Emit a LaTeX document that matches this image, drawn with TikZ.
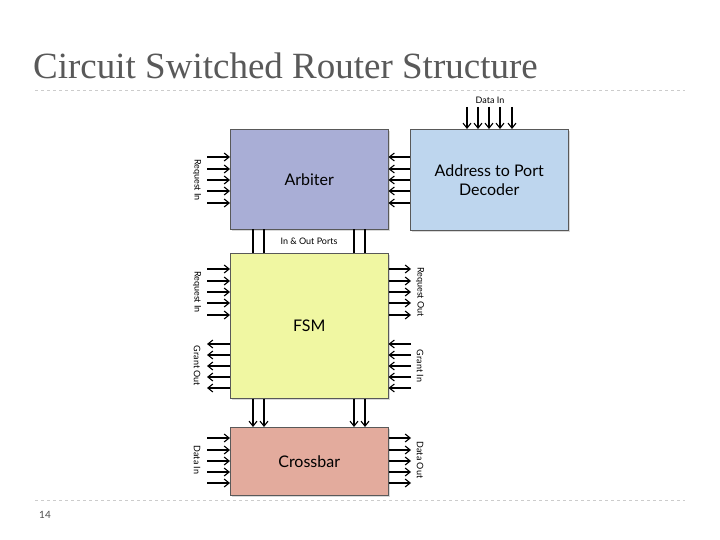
\documentclass[tikz,border=0pt]{standalone}
\usepackage{fontspec}
\setmainfont{Lato}
\newfontfamily\titlefont{Liberation Serif}
\usetikzlibrary{shadows,arrows.meta}
\definecolor{arb}{HTML}{A9AED6}
\definecolor{dec}{HTML}{BED6EE}
\definecolor{fsm}{HTML}{F0F7A2}
\definecolor{xbar}{HTML}{E3AB9D}
\begin{document}
\begin{tikzpicture}[x=1pt,y=-1pt,
  blk/.style={draw=gray!70!black,line width=0.5pt,minimum width=158pt,drop shadow={shadow xshift=2pt,shadow yshift=-2pt,opacity=0.3},font=\fontsize{16}{19}\selectfont,align=center,anchor=north west},
  sig/.style={-{Straight Barb[length=5pt,width=8pt]},line width=1.1pt},
  lab/.style={font=\fontsize{9}{10}\selectfont,rotate=-90},
  sepline/.style={draw=gray!40,dashed,line width=0.6pt}]
\useasboundingbox (0,0) rectangle (720,540);
\node[font=\titlefont\fontsize{37}{40}\selectfont,text=black!65,anchor=base west,inner sep=0pt] (title) at (33,79) {Circuit Switched Router Structure};
\coordinate (d1) at (35,90); \coordinate (d2) at (685,90);
\coordinate (d3) at (35,500); \coordinate (d4) at (685,500);
\draw[sepline] (d1) -- (d2); \draw[sepline] (d3) -- (d4);
\node[font=\fontsize{10}{12}\selectfont,text=black!70] (pg) at (45,515) {14};

\node[blk,fill=arb,minimum height=100pt] (arb) at (230,129) {Arbiter};
\node[blk,fill=dec,minimum height=101pt] (dec) at (410,129) {Address to Port\\Decoder};
\node[blk,fill=fsm,minimum height=145pt] (fsm) at (230,253) {FSM};
\node[blk,fill=xbar,minimum height=68pt] (xb) at (230,427) {Crossbar};

\foreach \y [count=\i] in {157,169,180,191,203}{
  \coordinate (al\i) at (207,\y);
  \draw[sig] (al\i) -- (al\i -| arb.west);
  \draw[sig] (dec.west |- al\i) -- (arb.east |- al\i);
}
\node[lab] (l1) at (197,180) {Request In};
\foreach \x [count=\i] in {467,478,489,500,512}{
  \coordinate (dt\i) at (\x,107);
  \draw[sig] (dt\i) -- (dt\i |- dec.north);
}
\node[font=\fontsize{9}{10}\selectfont] (l2) at (490,100) {Data In};
\foreach \x [count=\i] in {253,264,354,365}{
  \draw[line width=1.1pt] (arb.south -| \x,0) -- (fsm.north -| \x,0);
  \draw[sig] (fsm.south -| \x,0) -- (xb.north -| \x,0);
}
\node[font=\fontsize{9}{10}\selectfont] (l3) at (309,241) {In \& Out Ports};
\foreach \y [count=\i] in {269,281,292,303,315}{
  \coordinate (fl\i) at (207,\y); \coordinate (fr\i) at (411,\y);
  \draw[sig] (fl\i) -- (fl\i -| fsm.west);
  \draw[sig] (fr\i -| fsm.east) -- (fr\i);
}
\foreach \y [count=\i] in {344,355,366,377,388}{
  \coordinate (gl\i) at (207,\y); \coordinate (gr\i) at (411,\y);
  \draw[sig] (gl\i -| fsm.west) -- (gl\i);
  \draw[sig] (gr\i) -- (gr\i -| fsm.east);
}
\node[lab] (l4) at (197,292) {Request In};
\node[lab] (l5) at (197,366) {Grant Out};
\node[lab] (l6) at (420,292) {Request Out};
\node[lab] (l7) at (420,366) {Grant In};
\foreach \y [count=\i] in {438,450,461,472,483}{
  \coordinate (cl\i) at (207,\y); \coordinate (cr\i) at (411,\y);
  \draw[sig] (cl\i) -- (cl\i -| xb.west);
  \draw[sig] (cr\i -| xb.east) -- (cr\i);
}
\node[lab] (l8) at (197,460) {Data In};
\node[lab] (l9) at (420,460) {Data Out};
\end{tikzpicture}
\end{document}
